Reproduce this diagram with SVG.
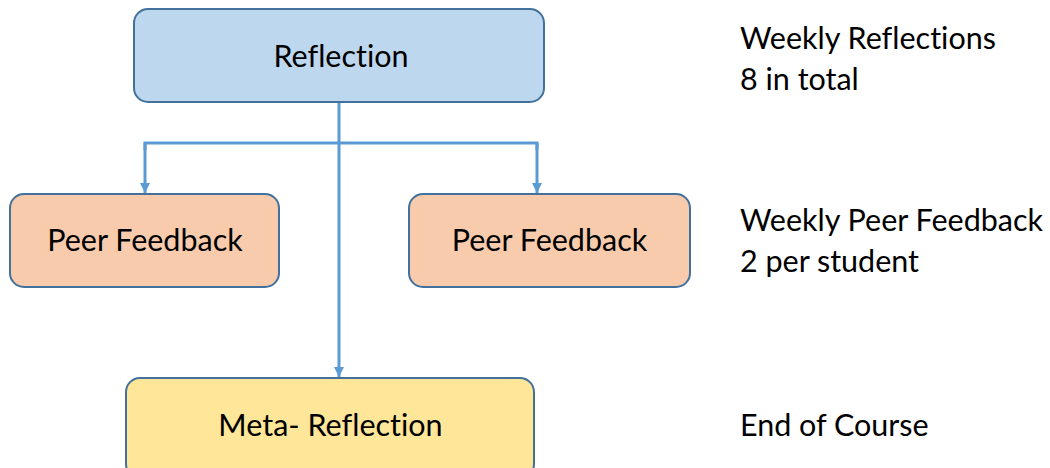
<svg xmlns="http://www.w3.org/2000/svg" width="1050" height="468" viewBox="0 0 1050 468">
<defs>
<marker id="arr" viewBox="0 0 10 10" refX="10" refY="5" markerWidth="3.6" markerHeight="3.4" orient="auto" markerUnits="strokeWidth">
<path d="M0,0 L10,5 L0,10 z" fill="#5B9BD5"/>
</marker>
</defs>
<style>
.box{stroke:#41719C;stroke-width:2}
.lbl{font-family:Lato,"Open Sans","Liberation Sans",sans-serif;font-size:30.5px;fill:#000;font-variant-ligatures:none;font-feature-settings:"liga" 0}
.conn{fill:none;stroke:#5B9BD5;stroke-width:3}
</style>
<rect width="1050" height="468" fill="#fff"/>
<g id="connectors">
<path class="conn" d="M339,102 V377" marker-end="url(#arr)"/>
<path class="conn" d="M145,150 V143 H537 V150" />
<path class="conn" d="M145,143 V193" marker-end="url(#arr)"/>
<path class="conn" d="M537,143 V193" marker-end="url(#arr)"/>
</g>
<g id="reflection">
<rect class="box" x="134" y="9" width="410" height="93" rx="14" fill="#BDD7EE"/>
<text class="lbl" x="341" y="67" text-anchor="middle">Reflection</text>
</g>
<g id="peer-left">
<rect class="box" x="10" y="194" width="269" height="93" rx="14" fill="#F8CBAD"/>
<text class="lbl" x="145" y="251" text-anchor="middle">Peer Feedback</text>
</g>
<g id="peer-right">
<rect class="box" x="409" y="194" width="281" height="93" rx="14" fill="#F8CBAD"/>
<text class="lbl" x="549.5" y="251" text-anchor="middle">Peer Feedback</text>
</g>
<g id="meta">
<rect class="box" x="126" y="378" width="408" height="100" rx="14" fill="#FFE699"/>
<text class="lbl" x="330.5" y="436" text-anchor="middle">Meta- Reflection</text>
</g>
<g id="notes">
<text class="lbl" x="740" y="49">Weekly Reflections</text>
<text class="lbl" x="740" y="90">8 in total</text>
<text class="lbl" x="740" y="231">Weekly Peer Feedback</text>
<text class="lbl" x="740" y="272">2 per student</text>
<text class="lbl" x="740" y="436">End of Course</text>
</g>
</svg>
